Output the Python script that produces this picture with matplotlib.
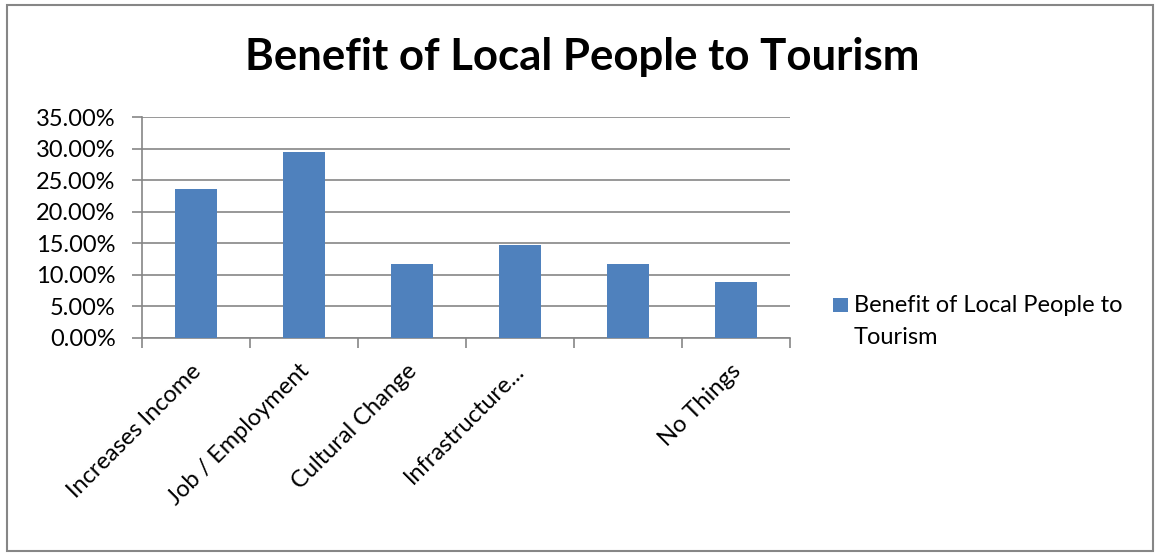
import matplotlib
matplotlib.use("Agg")
import matplotlib.pyplot as plt
import matplotlib.patches as mpatches
import matplotlib.transforms as mtransforms
from matplotlib.ticker import PercentFormatter, MultipleLocator

categories = ["Increases Income", "Job / Employment", "Cultural Change",
              "Infrastructure...", "", "No Things"]
shares = [23.53, 29.41, 11.76, 14.71, 11.76, 8.82]
series_name = "Benefit of Local People to\nTourism"
title = "Benefit of Local People to Tourism"

bar_color = "#4f81bd"
grid_color = "#868686"

plt.rcParams["font.family"] = ["Lato", "DejaVu Sans"]

W, H = 1156, 554
fig = plt.figure(figsize=(W / 100, H / 100), dpi=100)
ax = fig.add_axes([142 / W, 1 - 338 / H, 648 / W, 221 / H])

x = list(range(len(categories)))
ax.bar(x, shares, width=0.39, color=bar_color, zorder=3)

ax.set_xlim(-0.5, len(categories) - 0.5)
ax.set_ylim(0, 35)
ax.yaxis.set_major_locator(MultipleLocator(5))
ax.yaxis.set_major_formatter(PercentFormatter(decimals=2))
ax.grid(axis="y", color=grid_color, linewidth=1.2, zorder=0)

# category boundaries carry the x ticks, labels sit at the bar centres
ax.set_xticks([i - 0.5 for i in range(len(categories) + 1)])
ax.set_xticklabels([])
ax.set_xticks(x, minor=True)
ax.set_xticklabels(categories, minor=True, rotation=45, ha="right",
                   rotation_mode="anchor", fontsize=17)
ax.tick_params(axis="x", which="major", direction="out", length=7,
               color=grid_color, width=1.2)
ax.tick_params(axis="x", which="minor", length=0, pad=16)
ax.tick_params(axis="y", direction="out", length=7, color=grid_color,
               width=1.2, labelsize=17, pad=12)

shift = mtransforms.ScaledTranslation(-6 / 100, 0, fig.dpi_scale_trans)
for lbl in ax.get_xticklabels(minor=True):
    lbl.set_transform(lbl.get_transform() + shift)

for side in ["top", "right"]:
    ax.spines[side].set_visible(False)
for side in ["left", "bottom"]:
    ax.spines[side].set_color(grid_color)
    ax.spines[side].set_linewidth(1.2)

fig.text(582 / W, 1 - 57 / H, title, ha="center", va="center",
         fontsize=31.5, fontweight="bold")

# legend: square key next to a two-line series name
fig.patches.append(mpatches.Rectangle((833 / W, 1 - 312 / H), 15 / W, 14 / H,
                                      transform=fig.transFigure,
                                      facecolor=bar_color, edgecolor="none"))
fig.text(854 / W, 1 - 295 / H, series_name, ha="left", va="top",
         fontsize=17, linespacing=1.62)

# thin outer frame around the whole chart
fig.patches.append(mpatches.Rectangle((7 / W, 3 / H), 1146 / W, 546 / H,
                                      transform=fig.transFigure,
                                      fill=False, edgecolor=grid_color,
                                      linewidth=1.5))

fig.savefig("out.png", dpi=100)
